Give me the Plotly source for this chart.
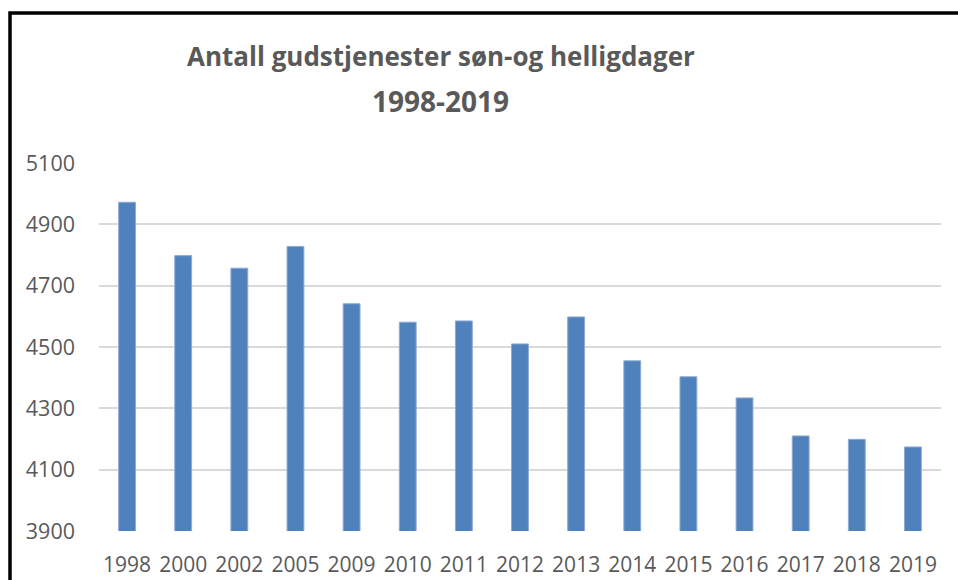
import plotly.graph_objects as go

years = ["1998", "2000", "2002", "2005", "2009", "2010", "2011", "2012",
         "2013", "2014", "2015", "2016", "2017", "2018", "2019"]
services = [4972, 4798, 4757, 4828, 4641, 4581, 4585, 4510,
            4598, 4455, 4403, 4334, 4210, 4199, 4174]
y_ticks = [3900, 4100, 4300, 4500, 4700, 4900, 5100]
title_line1 = "Antall gudstjenester søn-og helligdager"
title_line2 = "1998-2019"

W, H = 958, 580
ML, MR, MT, MB = 99, 17, 163, 49
PW, PH = W - ML - MR, H - MT - MB

def px(x):
    return (x - ML) / PW

def py(y):
    return (H - MB - y) / PH

TXT = "#595959"
FONT = "Open Sans"

fig = go.Figure(go.Bar(
    x=years, y=services,
    marker=dict(color="#4F81BD", line=dict(color="#8EAAD3", width=1)),
    hoverinfo="x+y",
))

border_path = "M {:.5f},{:.5f} L {:.5f},{:.5f} L {:.5f},{:.5f}".format(
    px(10), py(580), px(10), py(13), px(958), py(13))

fig.update_layout(
    width=W, height=H,
    margin=dict(l=ML, r=MR, t=MT, b=MB, autoexpand=False),
    paper_bgcolor="white", plot_bgcolor="white",
    bargap=0.70,
    showlegend=False,
    font=dict(family=FONT, color=TXT, size=21),
    xaxis=dict(type="category", showgrid=False, showline=False, ticks="",
               automargin=False, fixedrange=True,
               tickfont=dict(size=21, color=TXT, family=FONT),
               ticklabelstandoff=19),
    yaxis=dict(range=[3900, 5100], tickvals=y_ticks, showgrid=True,
               gridcolor="#D9D9D9", gridwidth=2, zeroline=False,
               showline=False, ticks="", automargin=False, fixedrange=True,
               tickfont=dict(size=21.5, color=TXT, family=FONT),
               ticklabelstandoff=23),
    annotations=[
        dict(text="<b>" + title_line1 + "</b>", xref="paper", yref="paper",
             x=px(441), y=py(56), xanchor="center", yanchor="middle",
             showarrow=False, font=dict(size=26, color=TXT, family=FONT)),
        dict(text="<b>" + title_line2 + "</b>", xref="paper", yref="paper",
             x=px(440), y=py(101), xanchor="center", yanchor="middle",
             showarrow=False, font=dict(size=28, color=TXT, family=FONT)),
    ],
    shapes=[
        dict(type="path", xref="paper", yref="paper", path=border_path,
             line=dict(color="black", width=3.5)),
    ],
)

fig.write_html(
    "out.html",
    config={"displayModeBar": False},
    post_script="document.body.style.margin='0';"
                "document.body.style.overflow='hidden';"
                "document.documentElement.style.overflow='hidden';"
                "document.documentElement.style.scrollbarWidth='none';",
)
